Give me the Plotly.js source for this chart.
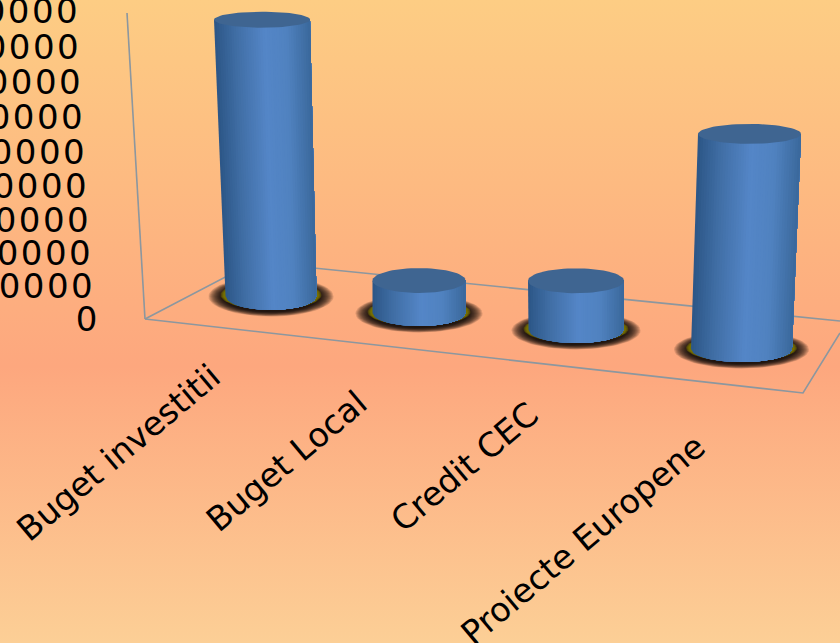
<!DOCTYPE html>
<html><head><meta charset="utf-8">
<script src="https://cdn.plot.ly/plotly-3.0.0.min.js"></script>
<style>
html,body{margin:0;padding:0;width:840px;height:643px;overflow:hidden;
background:linear-gradient(180deg,#fdcd84 0%,#fda77e 57%,#fccf96 100%);}
#chart{width:840px;height:643px;}
</style></head><body><div id="chart"></div>
<script>
const categories=["Buget investitii","Buget Local","Credit CEC","Proiecte Europene"];
const values=[8080000,950000,1440000,6290000];
const tickValues=[0,1000000,2000000,3000000,4000000,5000000,6000000,7000000,8000000,9000000];
const tickLabels=["0","1000000","2000000","3000000","4000000","5000000","6000000","7000000","8000000","9000000"];

// screen geometry of the oblique view
const W=840,H=643,zeroPx=319,pxPerUnit=34.2/1e6;
const val=p=>(zeroPx-p)/pxPerUnit;
const baseX=[271,419,576,741.5],baseY=[296,313,330,349],baseRx=[45.5,46.5,47.5,50.5],baseRy=[14,13,13,13];
const topX=[262,419,576,749.5],topRx=[48,46.5,48,51.5],topRy=[8,12.5,12.5,10];
const tickRight=[101,88,86,84,82,80,78,76,74,73],tickNudge=[0,1,2,4,4,4,3,2,2,0];
const catEndX=[231,377,548,716],catEndY=[353,380,392,423];

const traces=[];
const poly=(xs,ys,color)=>traces.push({type:'scatter',mode:'lines',x:xs,y:ys,fill:'toself',fillcolor:color,
  line:{color:color,width:0},hoverinfo:'skip',showlegend:false});
const seg=(pts)=>traces.push({type:'scatter',mode:'lines',x:pts.map(p=>p[0]),y:pts.map(p=>val(p[1])),
  line:{color:'#8c979f',width:1.6},hoverinfo:'skip',showlegend:false});
function ellipse(cx,cyV,rx,ryPx){const xs=[],ys=[];for(let i=0;i<=72;i++){const a=i/72*2*Math.PI;xs.push(cx+rx*Math.cos(a));ys.push(cyV+ryPx/pxPerUnit*Math.sin(a));}return [xs,ys];}
const stops=[[-1,[44,86,134]],[-0.55,[64,110,165]],[0.05,[84,134,199]],[0.5,[80,130,192]],[1,[58,104,155]]];
function shade(t){for(let i=1;i<stops.length;i++){if(t<=stops[i][0]){const a=stops[i-1],b=stops[i],f=(t-a[0])/(b[0]-a[0]);
  return 'rgb('+a[1].map((c,k)=>Math.round(c+(b[1][k]-c)*f)).join(',')+')';}}return 'rgb(58,104,155)';}

// floor and wall
seg([[127,13],[145,319]]);
seg([[145,319],[254,262],[840,321]]);
seg([[145,319],[803,393],[840,333]]);

categories.forEach((c,i)=>{
  const by=val(baseY[i]),ty=by+values[i];
  // soft shadow
  for(let k=0;k<14;k++){const g=k/13;
    const e=ellipse(baseX[i],val(baseY[i]+0.5),baseRx[i]+17-14*g,baseRy[i]+6-4.5*g);
    poly(e[0],e[1],'rgba(0,0,0,0.13)');}
  for(let k=0;k<5;k++){const g=k/4;
    const o=ellipse(baseX[i],val(baseY[i]-1),baseRx[i]+5-3*g,baseRy[i]+0.8-0.2*g);
    poly(o[0],o[1],'rgba(135,130,0,0.3)');}
  // side of the cylinder, painted left to right so every strip covers the next
  const N=40,low=t=>by-baseRy[i]/pxPerUnit*Math.sqrt(Math.max(0,1-t*t));
  for(let s=0;s<N;s++){
    const t1=-1+2*s/N,tm=t1+1/N,xs=[],ys=[];
    for(let j=s;j<=N;j++){const t=-1+2*j/N;xs.push(baseX[i]+baseRx[i]*t);ys.push(low(t));}
    xs.push(topX[i]+topRx[i],topX[i]+topRx[i]*t1);ys.push(ty,ty);
    poly(xs,ys,shade(tm));
  }
  const e=ellipse(topX[i],ty,topRx[i],topRy[i]);
  poly(e[0],e[1],'#3f6591');
});

const annotations=[];
tickValues.forEach((v,i)=>annotations.push({x:tickRight[i],y:v,xref:'x',yref:'y',text:tickLabels[i],showarrow:false,
  xanchor:'right',yanchor:'middle',yshift:-tickNudge[i],font:{family:'DejaVu Sans',size:34,color:'#000'}}));
categories.forEach((c,i)=>annotations.push({x:catEndX[i],y:val(catEndY[i]),xref:'x',yref:'y',text:c,showarrow:false,
  textangle:-40,xanchor:'right',yanchor:'top',font:{family:'DejaVu Sans',size:33.5,color:'#000'}}));

Plotly.newPlot('chart',traces,{width:W,height:H,margin:{l:0,r:0,t:0,b:0},showlegend:false,
  paper_bgcolor:'rgba(0,0,0,0)',plot_bgcolor:'rgba(0,0,0,0)',
  xaxis:{range:[0,W],visible:false,fixedrange:true},
  yaxis:{range:[val(H),val(0)],visible:false,fixedrange:true},
  annotations},{displayModeBar:false,staticPlot:true}).then(()=>{
  document.querySelectorAll('.annotation-text').forEach((t,i)=>{if(i<tickValues.length)t.style.letterSpacing='2.5px';});
});
</script></body></html>
